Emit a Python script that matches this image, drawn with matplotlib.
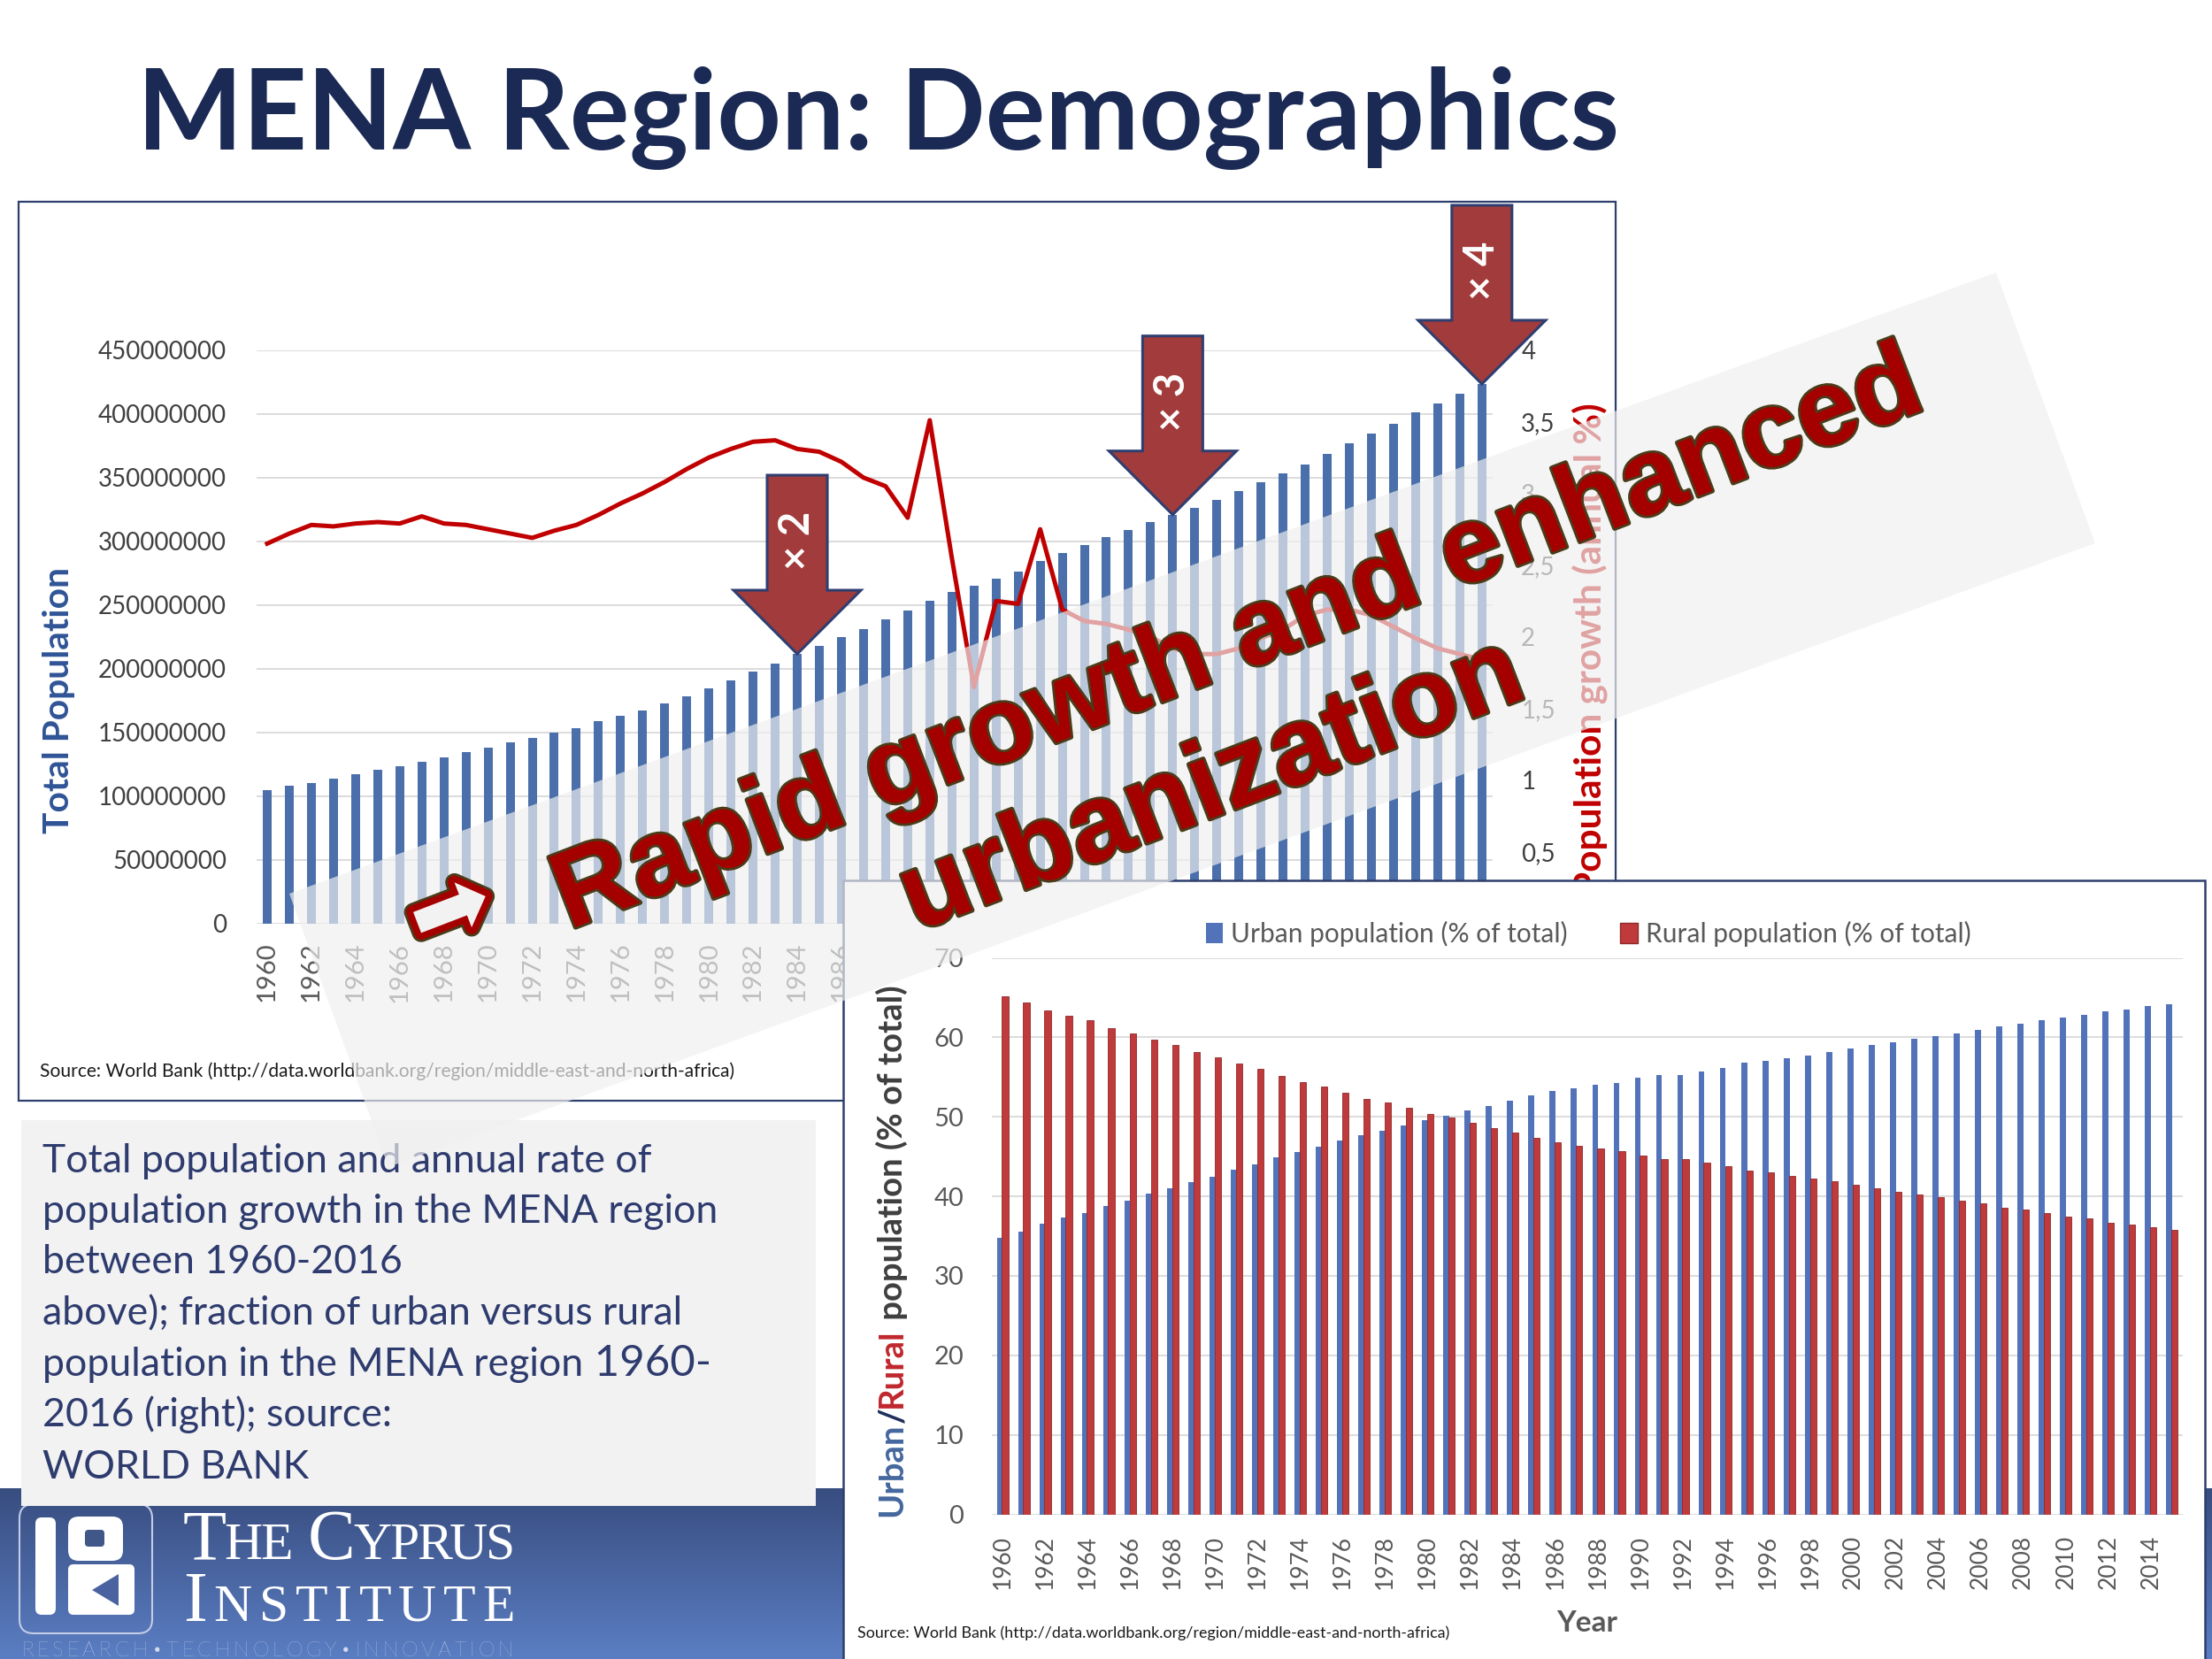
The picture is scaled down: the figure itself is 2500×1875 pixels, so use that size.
import numpy as np
import matplotlib
matplotlib.use('Agg')
import matplotlib.pyplot as plt
from matplotlib.patches import Rectangle, Polygon, FancyBboxPatch, Patch
from matplotlib.colors import LinearSegmentedColormap
import matplotlib.patheffects as pe

W, H = 2500, 1875

# ---- data ----
years = np.arange(1960, 2016)
total_pop_millions = [104.8, 108.0, 110.0, 114.0, 117.0, 121.0, 123.5, 127.0, 130.5, 134.6,
                      138.0, 142.0, 145.7, 150.0, 153.4, 158.6, 163.0, 167.5, 173.0, 178.6,
                      184.6, 190.8, 197.8, 204.0, 211.6, 218.0, 225.0, 231.0, 239.0, 245.6,
                      253.0, 260.0, 265.0, 270.6, 276.0, 284.5, 291.0, 296.7, 303.0, 308.8,
                      315.0, 320.8, 326.0, 332.4, 339.4, 346.3, 353.4, 360.3, 368.7, 376.8,
                      384.5, 392.4, 400.8, 408.0, 415.7, 423.3]
growth_pct = [2.65, 2.72, 2.78, 2.77, 2.79, 2.80, 2.79, 2.84, 2.79, 2.78,
              2.75, 2.72, 2.69, 2.74, 2.78, 2.85, 2.93, 3.00, 3.08, 3.17,
              3.25, 3.31, 3.36, 3.37, 3.31, 3.29, 3.22, 3.11, 3.05, 2.83,
              3.51, 2.55, 1.65, 2.25, 2.23, 2.75, 2.19, 2.11, 2.09, 2.05,
              2.00, 1.92, 1.88, 1.88, 1.92, 1.99, 2.05, 2.15, 2.19, 2.19,
              2.15, 2.07, 1.99, 1.92, 1.88, 1.84]
urban_pct = [34.8, 35.6, 36.6, 37.3, 37.9, 38.8, 39.5, 40.3, 41.0, 41.8,
             42.5, 43.3, 44.0, 44.9, 45.6, 46.2, 47.0, 47.7, 48.2, 48.9,
             49.6, 50.1, 50.8, 51.4, 52.0, 52.7, 53.2, 53.6, 54.0, 54.3,
             54.9, 55.3, 55.3, 55.75, 56.2, 56.8, 57.0, 57.4, 57.75, 58.1,
             58.6, 59.0, 59.4, 59.8, 60.1, 60.5, 60.9, 61.4, 61.7, 62.1,
             62.5, 62.8, 63.3, 63.5, 63.9, 64.2]
rural_pct = [65.2, 64.4, 63.4, 62.7, 62.1, 61.2, 60.5, 59.7, 59.0, 58.2,
             57.5, 56.7, 56.0, 55.1, 54.4, 53.8, 53.0, 52.3, 51.8, 51.1,
             50.4, 49.9, 49.2, 48.6, 48.0, 47.3, 46.8, 46.4, 46.0, 45.7,
             45.1, 44.7, 44.7, 44.25, 43.8, 43.2, 43.0, 42.6, 42.25, 41.9,
             41.4, 41.0, 40.6, 40.2, 39.9, 39.5, 39.1, 38.6, 38.3, 37.9,
             37.5, 37.2, 36.7, 36.5, 36.1, 35.8]

pop_ticks = [0, 50e6, 100e6, 150e6, 200e6, 250e6, 300e6, 350e6, 400e6, 450e6]
pop_tick_labels = ['0', '50000000', '100000000', '150000000', '200000000',
                   '250000000', '300000000', '350000000', '400000000', '450000000']
# the 0 of the right axis sits under the second chart, so only these show
growth_ticks = [0.5, 1, 1.5, 2, 2.5, 3, 3.5, 4]
growth_tick_labels = ['0,5', '1', '1,5', '2', '2,5', '3', '3,5', '4']
share_ticks = [0, 10, 20, 30, 40, 50, 60, 70]
last_visible_year = 1986   # later year labels of the top chart are hidden by the second chart

marked_years = [1984, 2001, 2015]
marked_labels = ['\u00d7 2', '\u00d7 3', '\u00d7 4']

caption = ['Total population and annual rate of',
           'population growth in the MENA region',
           'between 1960-2016',
           'above); fraction of urban versus rural',
           'population in the MENA region',
           '2016 (right); source:',
           'WORLD BANK']
source = 'Source: World Bank (http://data.worldbank.org/region/middle-east-and-north-africa)'

plt.rcParams['font.family'] = ['Lato', 'DejaVu Sans']

fig = plt.figure(figsize=(25, 18.75), dpi=100)
fig.patch.set_facecolor('white')
r = fig.canvas.get_renderer()


def rect(x0, y0, x1, y1):
    return [x0 / W, 1 - y1 / H, (x1 - x0) / W, (y1 - y0) / H]


def layer(z):
    a = fig.add_axes([0, 0, 1, 1], zorder=z)
    a.axis('off')
    a.set_xlim(0, W)
    a.set_ylim(H, 0)
    return a


def fit(t, length, along='x'):
    bb = t.get_window_extent(renderer=r)
    cur = bb.width if along == 'x' else bb.height
    t.set_fontsize(t.get_fontsize() * length / cur)


def chain(axl, x, y, pieces, rot=0, target=None, mode='gap', **kw):
    def draw(gap, k):
        out, cx, cy = [], x, y
        for s, extra in pieces:
            e = dict(extra)
            e['fontsize'] = e['fontsize'] * k
            t = axl.text(cx, cy, s, rotation=rot, **kw, **e)
            bb = t.get_window_extent(renderer=r)
            if rot == 0:
                cx += bb.width + gap
            else:
                cy -= bb.height + gap
            out.append(t)
        span = (cx - x - gap) if rot == 0 else (y - cy - gap)
        return out, span
    out, span = draw(0, 1.0)
    if target is not None:
        for t in out:
            t.remove()
        if mode == 'gap':
            out, span = draw((target - span) / max(len(pieces) - 1, 1), 1.0)
        else:
            out, span = draw(0, target / span)
    return out


# ---- bottom layer: chart frame, footer, logo, caption ----
under = layer(0)
under.add_patch(Rectangle((21, 228), 1805, 1016, fc='white', ec='#2E3F6E', lw=1.6, zorder=1))

grad = np.linspace(0, 1, 256).reshape(-1, 1)
foot_cmap = LinearSegmentedColormap.from_list('foot', ['#384D80', '#5B7EC3'])
under.imshow(grad, cmap=foot_cmap, extent=(0, W, H, 1682), aspect='auto', zorder=0.5)

# logo
under.add_patch(FancyBboxPatch((22, 1700), 150, 146, boxstyle='round,pad=0,rounding_size=16',
                               fc='none', ec='#C3CCE6', lw=1.5, zorder=2))
under.add_patch(FancyBboxPatch((40, 1715), 23, 110, boxstyle='round,pad=0,rounding_size=7',
                               fc='white', ec='none', zorder=2))
under.add_patch(FancyBboxPatch((77, 1714), 62, 50, boxstyle='round,pad=0,rounding_size=12',
                               fc='white', ec='none', zorder=2))
under.add_patch(FancyBboxPatch((96, 1729), 22, 19, boxstyle='round,pad=0,rounding_size=4',
                               fc='#415787', ec='none', zorder=2))
under.add_patch(FancyBboxPatch((77, 1768), 75, 57, boxstyle='round,pad=0,rounding_size=6',
                               fc='white', ec='none', zorder=2))
under.add_patch(Polygon([(104, 1797), (134, 1779), (134, 1815)], closed=True,
                        fc='#4A63A0', ec='none', zorder=2))

big, small = {'fontsize': 58}, {'fontsize': 43}
serif = dict(family='Liberation Serif', color='white', ha='left', va='baseline', zorder=3)
chain(under, 207, 1762, [('T', big), ('H', small), ('E', small), (' C', big), ('Y', small),
                         ('P', small), ('R', small), ('U', small), ('S', small)],
      target=375, **serif)
chain(under, 207, 1832, [('I', big), ('N', small), ('S', small), ('T', small), ('I', small),
                         ('T', small), ('U', small), ('T', small), ('E', small)],
      target=375, **serif)
chain(under, 24, 1872, [(c, {'fontsize': 17}) for c in 'RESEARCH\u2022TECHNOLOGY\u2022INNOVATION'],
      target=556, color='#D3DAEE', weight='light', ha='left', va='baseline', zorder=3)

# caption box
under.add_patch(Rectangle((24, 1266), 898, 436, fc='#F2F2F2', ec='none', zorder=3))
cap_kw = dict(color='#2E3B6E', ha='left', va='baseline', zorder=4)
probe = under.text(48, 1382, caption[1], fontsize=28, **cap_kw)
fit(probe, 764)
cap_fs = probe.get_fontsize()
probe.remove()
cap_base = [1325, 1382, 1439, 1497, 1555, 1612, 1671]
for i, (line, yb) in enumerate(zip(caption, cap_base)):
    if i == 4:
        chain(under, 48, yb, [(line, {'fontsize': cap_fs}), (' 1960-', {'fontsize': cap_fs * 1.1})],
              **cap_kw)
    else:
        under.text(48, yb, line, fontsize=cap_fs, **cap_kw)

# top chart texts outside the plot area
tsrc = under.text(45, 1211, source, fontsize=13, color='#1A1A1A', ha='left', va='center', zorder=3)
fit(tsrc, 784)
tl = under.text(67, 792, 'Total Population', fontsize=26, weight='bold', color='#2F5496',
                ha='center', va='center', zorder=3)
fit(tl, 301)
tl.set_rotation(90)
tr = under.text(1797, 733, 'Population growth (annual %)', fontsize=26, weight='bold',
                color='#C00000', ha='center', va='center', zorder=3)
fit(tr, 557)
tr.set_rotation(90)

# ---- top chart: total population + growth ----
x = np.arange(len(years))
ax = fig.add_axes(rect(289.5, 395.5, 1687.3, 1044), zorder=1)
ax.patch.set_alpha(0)
ax.bar(x, np.array(total_pop_millions) * 1e6, width=0.4, color='#4A6FAA', zorder=2)
ax.set_xlim(-0.5, len(years) - 0.5)
ax.set_ylim(0, 450e6)
ax.set_yticks(pop_ticks)
ax.set_yticklabels(pop_tick_labels)
shown = x[::2][years[::2] <= last_visible_year]
ax.set_xticks(shown)
ax.set_xticklabels([str(years[i]) for i in shown], rotation=90)
ax.yaxis.grid(True, color='#D9D9D9', lw=1.3)
ax.set_axisbelow(True)
ax.tick_params(axis='y', length=0, pad=24, labelsize=20, labelcolor='#404040')
ax.tick_params(axis='x', length=0, pad=15, labelsize=21, labelcolor='#595959')

ax2 = ax.twinx()
ax2.set_zorder(1.1)
ax2.patch.set_visible(False)
ax2.plot(x, growth_pct, color='#C00000', lw=3.6, zorder=3)
ax2.set_ylim(0, 4)
ax2.set_yticks(growth_ticks)
ax2.set_yticklabels(growth_tick_labels)
ax2.tick_params(axis='y', length=0, pad=23, labelsize=20, labelcolor='#404040')
for a in (ax, ax2):
    for s in a.spines.values():
        s.set_visible(False)

# ---- bottom chart: urban / rural share ----
mid = layer(2)
mid.add_patch(Rectangle((953, 995), 1539, 900, fc='white', ec='#2E3F6E', lw=1.8, zorder=1))
axb = fig.add_axes(rect(1121, 1082.5, 2467, 1711.5), zorder=3)
axb.patch.set_alpha(0)
axb.bar(x - 0.13, urban_pct, width=0.28, color='#5273BA', zorder=2)
axb.bar(x + 0.12, rural_pct, width=0.3, color='#C0393B', edgecolor='#8C2A2A', lw=0.6, zorder=3)
axb.set_xlim(-0.5, len(years) - 0.5)
axb.set_ylim(0, 70)
axb.set_yticks(share_ticks)
axb.set_xticks(x[:-1:2])
axb.set_xticklabels([str(y) for y in years[:-1:2]], rotation=90)
axb.yaxis.grid(True, color='#D9D9D9', lw=1.3)
axb.set_axisbelow(True)
axb.tick_params(axis='y', length=0, pad=23, labelsize=21, labelcolor='#595959')
axb.tick_params(axis='x', length=0, pad=17, labelsize=19, labelcolor='#595959')
for s in axb.spines.values():
    s.set_visible(False)
axb.legend(handles=[Patch(fc='#5273BA'), Patch(fc='#C0393B', ec='#8C2A2A')],
           labels=['Urban population (% of total)', 'Rural population (% of total)'],
           loc='center', bbox_to_anchor=(1795 / W, 1 - 1055 / H), bbox_transform=fig.transFigure,
           ncol=2, frameon=False, fontsize=21.5, labelcolor='#595959', handlelength=0.65,
           handleheight=0.8, handletextpad=0.3, columnspacing=2.0)

mid.text(1794, 1834, 'Year', fontsize=24, weight='bold', color='#595959', ha='center', va='center', zorder=2)
bsrc = mid.text(969, 1846, source, fontsize=12, color='#1A1A1A', ha='left', va='center', zorder=2)
fit(bsrc, 664)
ylab = [('Urban', {'fontsize': 22, 'color': '#44679E'}), ('/', {'fontsize': 22, 'color': '#1F2F5C'}),
        ('Rural', {'fontsize': 22, 'color': '#C0272D'}),
        (' population (% of total)', {'fontsize': 22, 'color': '#3F3F3F'})]
chain(mid, 1008, 1714, ylab, rot=90, target=598, mode='scale', weight='bold',
      ha='center', va='bottom', zorder=2)

# ---- top layer: translucent banner, word art, arrows, title ----
over = layer(5)
over.add_patch(Polygon([(327, 1010), (2256, 308), (2368, 614), (439, 1319)], closed=True,
                       fc='#F0F0F0', ec='none', alpha=0.68, zorder=1))

wa_kw = dict(family='Liberation Sans', weight='bold', color='#A50000', ha='center', va='baseline',
             rotation_mode='anchor', zorder=3,
             path_effects=[pe.Stroke(linewidth=4, foreground='#4A3C1A'), pe.Normal()])
t1 = over.text(1411, 756, 'Rapid growth and enhanced', fontsize=88, **wa_kw)
fit(t1, 1646)
t1.set_rotation(21)
t2 = over.text(1382, 920, 'urbanization', fontsize=88, **wa_kw)
fit(t2, 743)
t2.set_rotation(21)
ta = over.text(510, 1032, '\u27a1', family='DejaVu Sans', fontsize=60, color='#F2F2F2',
               ha='center', va='center', rotation_mode='anchor', zorder=3,
               path_effects=[pe.Stroke(linewidth=15, foreground='#4A3C1A'),
                             pe.Stroke(linewidth=11, foreground='#A50000'), pe.Normal()])
fit(ta, 92)
ta.set_rotation(21)

for yr, lab in zip(marked_years, marked_labels):
    i = list(years).index(yr)
    tx, ty_up = ax.transData.transform((x[i], total_pop_millions[i] * 1e6))
    ty = H - ty_up
    shape = [(tx - 34, ty - 202), (tx + 34, ty - 202), (tx + 34, ty - 72), (tx + 72, ty - 72),
             (tx, ty), (tx - 72, ty - 72), (tx - 34, ty - 72)]
    over.add_patch(Polygon(shape, closed=True, fc='#A23B3B', ec='#2F3E70', lw=2.2, zorder=4))
    over.text(tx, ty - 128, lab, rotation=90, ha='center', va='center', color='white',
              weight='bold', fontsize=34, zorder=5)

title = over.text(155, 169, 'MENA Region: Demographics', fontsize=80, weight='bold',
                  color='#1B2A55', ha='left', va='baseline', zorder=5)
fit(title, 1675)

for a in (under, mid, over):
    a.set_xlim(0, W)
    a.set_ylim(H, 0)

fig.savefig('out.png', dpi=100)
